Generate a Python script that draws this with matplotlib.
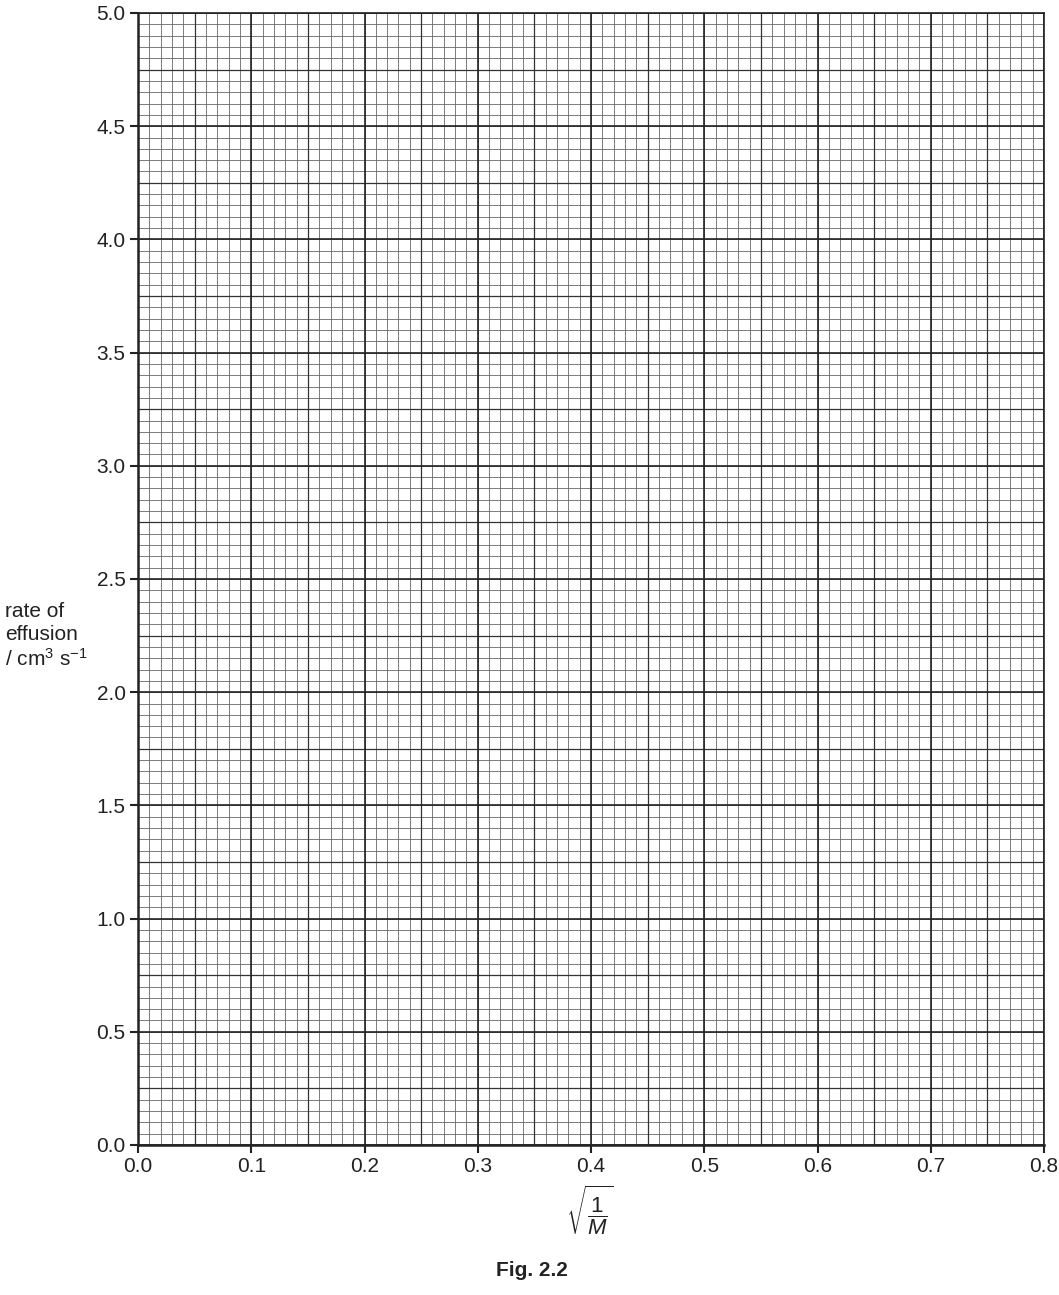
import numpy as np
import matplotlib.pyplot as plt

plt.rcParams.update({
    "font.family": "Liberation Sans",
    "mathtext.fontset": "custom",
    "mathtext.rm": "Liberation Sans",
    "mathtext.it": "Liberation Sans:italic",
    "font.size": 15,
})

# axis ranges and grid spacing
x_range = [0.0, 0.8]
y_range = [0.0, 5.0]
x_major = [0.0, 0.1, 0.2, 0.3, 0.4, 0.5, 0.6, 0.7, 0.8]
y_major = [0.0, 0.5, 1.0, 1.5, 2.0, 2.5, 3.0, 3.5, 4.0, 4.5, 5.0]
x_minor_step = 0.01
y_minor_step = 0.05

W, H = 1059, 1295
fig = plt.figure(figsize=(W / 100, H / 100), dpi=100)
ax = fig.add_axes([138 / W, 1 - 1145 / H, (1044 - 138) / W, (1145 - 13) / H])

# small squares
for x in np.arange(x_range[0], x_range[1] + 1e-9, x_minor_step):
    ax.axvline(x, color="#666666", lw=0.6, zorder=1)
for y in np.arange(y_range[0], y_range[1] + 1e-9, y_minor_step):
    ax.axhline(y, color="#666666", lw=0.6, zorder=1)
# half-major lines
for x in np.arange(0.05, x_range[1], 0.1):
    ax.axvline(x, color="#333333", lw=0.9, zorder=2)
for y in np.arange(0.25, y_range[1], 0.5):
    ax.axhline(y, color="#333333", lw=0.9, zorder=2)
# major lines
for x in x_major:
    ax.axvline(x, color="#222222", lw=1.2, zorder=3)
for y in y_major:
    ax.axhline(y, color="#222222", lw=1.2, zorder=3)

ax.set_xlim(*x_range)
ax.set_ylim(*y_range)
ax.set_xticks(x_major)
ax.set_yticks(y_major)
ax.set_xticklabels([f"{v:.1f}" for v in x_major])
ax.set_yticklabels([f"{v:.1f}" for v in y_major])
ax.tick_params(direction="out", length=6, width=1.5, color="#222222",
               labelsize=15, labelcolor="#222222", pad=3)
for s in ["left", "bottom"]:
    ax.spines[s].set_linewidth(1.8)
    ax.spines[s].set_color("#222222")
for s in ["top", "right"]:
    ax.spines[s].set_linewidth(1.2)
    ax.spines[s].set_color("#222222")

fig.text(5 / W, 1 - 636 / H, "rate of\neffusion\n/ cm$^3$ s$^{-1}$",
         ha="left", va="center", fontsize=15, color="#222222", linespacing=1.25)
fig.text(590 / W, 1 - 1210 / H, r"$\sqrt{\dfrac{1}{M}}$",
         ha="center", va="center", fontsize=16, color="#222222")
fig.text(532 / W, 1 - 1270 / H, "Fig. 2.2", ha="center", va="center",
         fontsize=15, fontweight="bold", color="#222222")

fig.savefig("out.png", dpi=100)
